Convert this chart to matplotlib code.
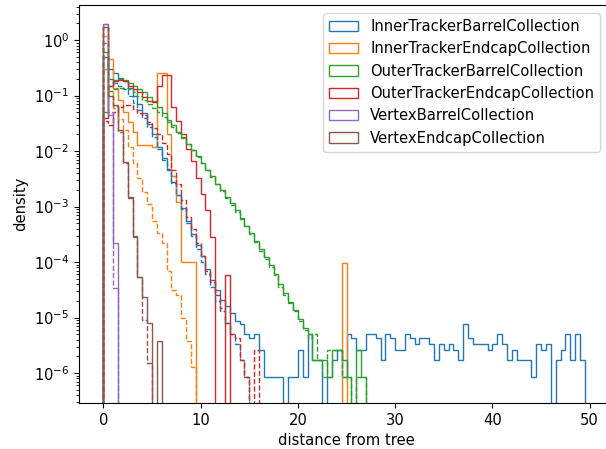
import numpy as np
import matplotlib
matplotlib.use("Agg")
import matplotlib.pyplot as plt

plt.rcParams["font.size"] = 10.6

BIN_WIDTH = 0.5

labels = ["InnerTrackerBarrelCollection", "InnerTrackerEndcapCollection",
          "OuterTrackerBarrelCollection", "OuterTrackerEndcapCollection",
          "VertexBarrelCollection", "VertexEndcapCollection"]

# densities per 0.5-wide bin starting at 0 (solid = labelled, dashed = second set)
inner_barrel = [
    0.5, 0.3, 0.26, 0.21, 0.18, 0.14, 0.1, 0.07, 0.048, 0.031,
    0.02, 0.012, 0.0075, 0.0047, 0.0028, 0.0016, 9.5e-4, 5.5e-4, 3.2e-4, 2.0e-4,
    1.3e-4, 7.5e-5, 4.7e-5, 3.1e-5, 2.1e-5, 1.6e-5, 1.2e-5, 8.6e-6, 7.7e-6, 5.1e-6,
    4.3e-6, 5.1e-6, 2.6e-6, 8.6e-7, 8.6e-7, 8.6e-7, 8.6e-7, 0, 8.6e-7, 8.6e-7,
    2.6e-6, 8.6e-7, 5.1e-6, 1.7e-6, 1.7e-6, 0, 8.6e-7, 1.7e-6, 2.6e-6, 8.6e-7,
    5.1e-6, 4.3e-6, 2.6e-6, 2.6e-6, 5.1e-6, 5.1e-6, 4.3e-6, 1.7e-6, 5.1e-6, 4.3e-6,
    2.6e-6, 2.6e-6, 5.1e-6, 4.3e-6, 3.4e-6, 4.3e-6, 4.3e-6, 3.4e-6, 1.7e-6, 3.4e-6,
    2.6e-6, 3.4e-6, 2.6e-6, 1.7e-6, 7.7e-6, 4.3e-6, 3.4e-6, 3.4e-6, 3.4e-6, 2.6e-6,
    3.4e-6, 5.1e-6, 3.4e-6, 1.7e-6, 2.6e-6, 1.7e-6, 1.7e-6, 1.7e-6, 8.6e-7, 3.4e-6,
    2.6e-6, 3.4e-6, 0, 1.7e-6, 2.6e-6, 5.1e-6, 1.7e-6, 5.1e-6, 1.7e-6]
inner_barrel_2 = [
    0.9, 0.2, 0.17, 0.15, 0.13, 0.1, 0.075, 0.055, 0.04, 0.027,
    0.018, 0.011, 0.007, 0.0045, 0.0027, 0.0016, 9e-4, 5e-4, 2.9e-4, 1.7e-4,
    1.0e-4, 6e-5, 3.5e-5, 2.0e-5, 1.3e-5, 8e-6, 5e-6, 3.4e-6, 1.7e-6, 8.6e-7]

inner_endcap = [
    0.3, 0.45, 0.14, 0.083, 0.05, 0.033, 0.022, 0.013, 0.013, 0.013,
    0.012, 0.26, 0.26, 0.02, 0.0035, 0.0012, 1.0e-4, 1.0e-4, 1.0e-4, 0,
    0, 0, 0, 0, 0, 0, 0, 0, 0, 0,
    0, 0, 0, 0, 0, 0, 0, 0, 0, 0,
    0, 0, 0, 0, 0, 0, 0, 0, 0, 9.8e-5]
inner_endcap_2 = [
    1.2, 0.12, 0.06, 0.038, 0.024, 0.012, 0.006, 0.0033, 0.0018, 0.0011,
    5.5e-4, 3.4e-4, 2.2e-4, 7e-5, 3.1e-5, 2.5e-5, 1.0e-5, 3.8e-6, 1.3e-6]

outer_barrel = [
    0.05, 0.15, 0.19, 0.2, 0.19, 0.17, 0.15, 0.13, 0.115, 0.095,
    0.079, 0.062, 0.048, 0.037, 0.029, 0.022, 0.0177, 0.0137, 0.0106, 0.0081,
    0.0061, 0.0046, 0.0035, 0.0026, 0.002, 0.0015, 0.00114, 8.5e-4, 6.2e-4, 4.5e-4,
    3.3e-4, 2.4e-4, 1.7e-4, 1.23e-4, 8.7e-5, 6.0e-5, 4.1e-5, 2.8e-5, 1.9e-5, 1.35e-5,
    9.3e-6, 6.5e-6, 5.1e-6, 1.7e-6, 1.7e-6, 1.7e-6, 8.6e-7, 2.6e-6, 2.6e-6, 1.7e-6,
    8.6e-7, 0, 2.6e-6, 8.6e-7]
outer_barrel_2 = [
    0.6, 0.12, 0.13, 0.14, 0.14, 0.13, 0.115, 0.1, 0.085, 0.07,
    0.06, 0.05, 0.042, 0.034, 0.027, 0.021, 0.017, 0.0133, 0.0103, 0.0079,
    0.006, 0.0045, 0.0034, 0.0026, 0.0019, 0.0014, 0.00105, 8e-4, 6e-4, 4.5e-4,
    3.2e-4, 2.3e-4, 1.6e-4, 1.15e-4, 8.3e-5, 5.8e-5, 3.6e-5, 2.5e-5, 1.8e-5, 1.3e-5,
    8.6e-6, 6e-6, 4.3e-6, 5.1e-6, 1.7e-6, 8.6e-7, 2.6e-6, 2.6e-6, 2.6e-6, 8.6e-7,
    8.6e-7, 0, 8.6e-7, 8.6e-7]

outer_endcap = [
    0.04, 0.15, 0.18, 0.19, 0.18, 0.15, 0.13, 0.115, 0.095, 0.08,
    0.078, 0.15, 0.24, 0.24, 0.062, 0.035, 0.02, 0.011, 0.0065, 0.0033,
    0.0017, 8.5e-4, 2.8e-4, 0, 0, 5.8e-5]
outer_endcap_2 = [
    0.035, 0.03, 0.05, 0.062, 0.067, 0.067, 0.058, 0.048, 0.044, 0.033,
    0.026, 0.02, 0.014, 0.009, 0.0045, 0.0025, 0.0013, 6.5e-4, 4e-4, 2.2e-4,
    1.3e-4, 7e-5, 4.3e-5, 2.5e-5, 1.5e-5, 8e-6, 5e-6, 4.3e-6, 1.7e-6, 8.6e-7,
    0, 2.6e-6]

vertex_barrel = [1.93, 0.045, 2.2e-4]
vertex_barrel_2 = [1.98, 0.05, 3.4e-5]

vertex_endcap = [1.7, 0.1, 0.067, 0.024, 0.0064, 0.0015, 3.0e-4, 5.4e-5, 2.3e-5, 7.9e-6, 0, 3.7e-6]
vertex_endcap_2 = [1.75, 0.1, 0.065, 0.022, 0.0062, 0.0014, 2.8e-4, 5.4e-5, 8.9e-6, 1.5e-6]

solid = [inner_barrel, inner_endcap, outer_barrel, outer_endcap, vertex_barrel, vertex_endcap]
dashed = [inner_barrel_2, inner_endcap_2, outer_barrel_2, outer_endcap_2, vertex_barrel_2, vertex_endcap_2]
colors = ["tab:blue", "tab:orange", "tab:green", "tab:red", "tab:purple", "tab:brown"]


def draw(ax, vals, **kw):
    vals = np.asarray(vals, float)
    edges = np.arange(len(vals) + 1) * BIN_WIDTH
    centers = edges[:-1] + BIN_WIDTH / 2
    ax.hist(centers, bins=edges, weights=vals, histtype="step", **kw)


fig = plt.figure(figsize=(6.06, 4.49), dpi=100)
# right part of the axes runs past the figure edge, as in the cropped reference
ax = fig.add_axes([79 / 606, 46 / 449, 535 / 606, 398 / 449])
ax.set_yscale("log")

for vals, c, lab in zip(solid, colors, labels):
    draw(ax, vals, color=c, label=lab)
for vals, c in zip(dashed, colors):
    draw(ax, vals, color=c, linestyle="--")

ax.set_xlim(-2.5, 52.5)
ax.set_ylim(2.88e-7, 4.3)
ax.set_xlabel("distance from tree")
ax.set_ylabel("density")
ax.legend(loc="upper right", bbox_to_anchor=(0.974, 0.98), borderaxespad=0)

fig.savefig("out.png", dpi=100)
